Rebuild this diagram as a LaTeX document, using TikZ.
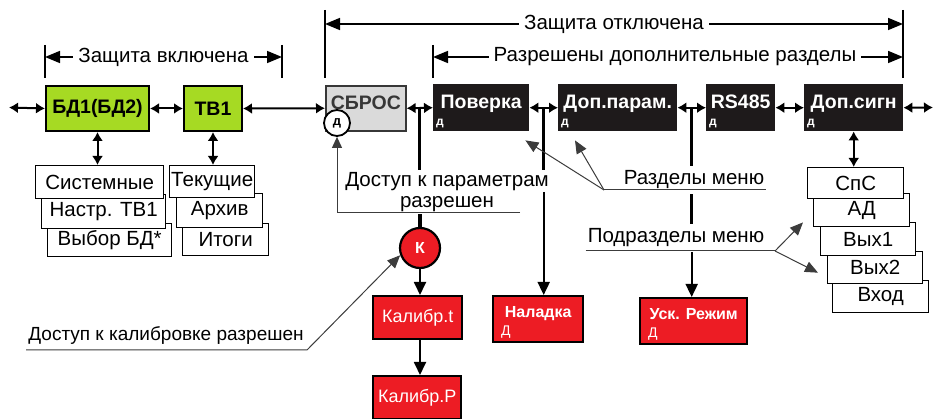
\documentclass[tikz,border=0pt]{standalone}
\usepackage{fontspec}
\setmainfont{Liberation Sans}
\usetikzlibrary{arrows.meta,calc,positioning}

\definecolor{limefill}{RGB}{166,218,35}
\definecolor{redfill}{RGB}{237,28,36}
\definecolor{greyfill}{RGB}{218,218,218}
\definecolor{blackfill}{RGB}{30,26,27}
\definecolor{darktext}{RGB}{55,55,55}
\definecolor{thingrey}{RGB}{60,60,60}

\newcommand\boxfont{\fontsize{19.5}{19.5}\selectfont\bfseries}
\newcommand\lblfont{\fontsize{20.5}{20.5}\selectfont}
\newcommand\redfont{\fontsize{16}{16}\selectfont\bfseries}
\newcommand\calfont{\fontsize{18}{18}\selectfont}

\tikzset{
  greenbox/.style={draw, line width=2pt, fill=limefill, anchor=north west, inner sep=0pt, font=\boxfont},
  greybox/.style={draw=darktext, line width=1.6pt, fill=greyfill, text=darktext, anchor=north west,
    inner sep=0pt, font=\boxfont, text height=24pt, text depth=21pt},
  menubox/.style={fill=blackfill, text=white, anchor=north west, inner sep=0pt, font=\boxfont,
    text height=24pt, text depth=23pt, label={[dmark]south west:д}},
  dmark/.style={anchor=south west, draw=none, fill=none, minimum width=0pt, minimum height=0pt,
    text height=, text depth=, inner sep=3pt, text=white, font=\fontsize{12}{12}\selectfont\bfseries},
  redmenu/.style={draw, line width=2.4pt, fill=redfill, text=white, anchor=north west, inner sep=0pt,
    font=\redfont, text height=21pt, text depth=25pt, label={[bigdmark]south west:Д}},
  bigdmark/.style={anchor=south west, draw=none, fill=none, minimum width=0pt, minimum height=0pt,
    text height=, text depth=, inner xsep=9pt, inner ysep=5pt, text=white, font=\fontsize{14}{14}\selectfont},
  calbox/.style={draw, line width=2.4pt, fill=redfill, text=white, anchor=north west, inner sep=0pt, font=\calfont},
  subbox/.style={draw, line width=1.4pt, fill=white, anchor=north west, inner sep=0pt, font=\lblfont},
  txt/.style={font=\lblfont, inner sep=2pt},
  dimtxt/.style={font=\lblfont, fill=white, inner xsep=5pt, inner ysep=1pt},
  dbl/.style={{Latex[length=9pt,width=11pt]}-{Latex[length=9pt,width=11pt]}, line width=2pt},
  dimline/.style={{Triangle[length=15pt,width=12pt]}-{Triangle[length=15pt,width=12pt]}, line width=1.6pt},
  tick/.style={line width=1.6pt},
  thickline/.style={line width=3.2pt},
  feed/.style={-{Triangle[length=13pt,width=12pt]}, line width=1.8pt},
  pointer/.style={-{Triangle[length=13pt,width=11pt]}, line width=1pt, draw=thingrey},
  uline/.style={line width=1pt, draw=thingrey},
}

\begin{document}
\begin{tikzpicture}[x=1pt,y=-1pt]
\useasboundingbox (0,0) rectangle (934,419);

% protection ranges
\coordinate (onl) at (45,57);
\coordinate (onr) at (282,57);
\coordinate (offl) at (325,24);
\coordinate (offr) at (903,24);
\coordinate (extl) at (433,57);
\coordinate (extr) at (903,57);
\draw[tick] (45,45) -- (45,78);
\draw[tick] (282,45) -- (282,78);
\draw[tick] (325,10) -- (325,78);
\draw[tick] (433,45) -- (433,78);
\draw[tick] (903,10) -- (903,78);
\draw[dimline] (onl) -- (onr) node[dimtxt, midway] (vkl) {Защита включена};
\draw[dimline] (offl) -- (offr) node[dimtxt, midway] (otkl) {Защита отключена};
\draw[dimline] (extl) -- (extr) node[dimtxt, pos=.515] (razr) {Разрешены дополнительные разделы};

% main menu
\node[greenbox, minimum width=103, minimum height=45] (bd) at (45,85) {БД1(БД2)};
\node[greenbox, minimum width=58, minimum height=45] (tv) at (183,85) {ТВ1};
\node[greybox, minimum width=80] (sbros) at (325,85) {СБРОС};
\node[menubox, minimum width=96] (pov) at (433,84) {Поверка};
\node[menubox, minimum width=119] (dop) at (558,84) {Доп.парам.};
\node[menubox, minimum width=69] (rs) at (706,84) {RS485};
\node[menubox, minimum width=99] (sign) at (804,84) {Доп.сигн};
\node[circle, draw, line width=1.8pt, fill=white, minimum size=26, inner sep=0pt,
  font=\fontsize{13}{13}\selectfont\bfseries] (dcirc) at (337,123) {д};

% submenus
\node[subbox, minimum width=124, minimum height=33] (vybor) at (47,223) {Выбор БД*};
\node[subbox, minimum width=124, minimum height=34] (nastr) at (41,194) {Настр. ТВ1};
\node[subbox, minimum width=128, minimum height=33] (sys) at (35,165) {Системные};
\node[subbox, minimum width=86, minimum height=32] (itog) at (182,223) {Итоги};
\node[subbox, minimum width=86, minimum height=34] (arh) at (176,193) {Архив};
\node[subbox, minimum width=85, minimum height=32] (tek) at (169,165) {Текущие};
\node[subbox, minimum width=96, minimum height=32] (vhod) at (832,280) {Вход};
\node[subbox, minimum width=95, minimum height=32] (vyh2) at (827,251) {Вых2};
\node[subbox, minimum width=95, minimum height=33] (vyh1) at (820,222) {Вых1};
\node[subbox, minimum width=96, minimum height=33] (ad) at (813,193) {АД};
\node[subbox, minimum width=96, minimum height=31] (sps) at (807,167) {СпС};

% service menus
\node[circle, draw, line width=2.2pt, fill=redfill, text=white, minimum size=40, inner sep=0pt,
  font=\redfont] (k) at (420,248) {К};
\node[calbox, minimum width=89, minimum height=43] (kalt) at (372,295) {Калибр.t};
\node[calbox, minimum width=88, minimum height=43] (kalp) at (372,375) {Калибр.P};
\node[redmenu, minimum width=90] (nal) at (492,295) {Наладка};
\node[redmenu, minimum width=107] (usk) at (639,297) {Уск. Режим};

% captions
\node[txt, align=center] (dostup) at (447,192) {Доступ к параметрам\\разрешен};
\node[txt, inner ysep=5pt, anchor=base] (razd) at (694,185) {Разделы меню};
\node[txt, inner ysep=5pt, anchor=base] (podr) at (676,243) {Подразделы меню};
\node[txt, anchor=base, font=\fontsize{19}{19}\selectfont] (kalib) at (166,341) {Доступ к калибровке разрешен};

% links
\coordinate (lend) at (9,107.5);
\coordinate (rend) at (933,107.5);
\draw[dbl] (lend) -- (bd.west);
\draw[dbl] (bd.east) -- (tv.west);
\draw[dbl] (tv.east) -- (sbros.west);
\draw[dbl] (sbros.east) -- (pov.west);
\draw[dbl] (pov.east) -- (dop.west);
\draw[dbl] (dop.east) -- (rs.west);
\draw[dbl] (rs.east) -- (sign.west);
\draw[dbl] (sign.east) -- (rend);
\draw[dbl] (bd.south) -- (bd.south |- sys.north);
\draw[dbl] (tv.south) -- (tv.south |- tek.north);
\draw[dbl] (sign.south) -- (sign.south |- sps.north);

\coordinate (m1) at ($(sbros.east)!.5!(pov.west)$);
\coordinate (m2) at ($(pov.east)!.5!(dop.west)$);
\coordinate (m3) at ($(dop.east)!.5!(rs.west)$);
\draw[thickline] (m1) -- (m1 |- dostup.north);
\draw[thickline] (k.north) -- (k.north |- dostup.south);
\coordinate (ul1) at (520,213);
\draw[uline, -{Triangle[length=11pt,width=10pt]}] (ul1) -| (dcirc.south);
\draw[thickline] (m2) -- (m2 |- dostup.north);
\draw[feed] (m2 |- dostup.center) -- (m2 |- nal.north);
\draw[thickline] (m3) -- (m3 |- razd.north);
\draw[thickline] (m3 |- razd.south) -- (m3 |- podr.north);
\draw[feed] (m3 |- podr.south) -- (m3 |- usk.north);

\coordinate (ul2) at (604,190);
\draw[uline] (ul2) -- (ul2 -| razd.east);
\draw[pointer] (ul2) -- ($(pov.south east)+(-4,9)$);
\draw[pointer] (ul2) -- ($(dop.south west)+(17,9)$);
\coordinate (ul3) at (775,251);
\draw[uline] (ul3 -| podr.west) -- (ul3);
\draw[pointer] (ul3) -- ($(ad.south west)+(-10,-5)$);
\draw[pointer] (ul3) -- ($(vyh2.west)+(-9,5)$);
\coordinate (ul4) at (307,350);
\draw[pointer] (ul4 -| kalib.west) -- (ul4) -- (k.200);

\draw[feed] (k.south) -- (k.south |- kalt.north);
\draw[feed] (k.south |- kalt.south) -- (k.south |- kalp.north);
\end{tikzpicture}
\end{document}
